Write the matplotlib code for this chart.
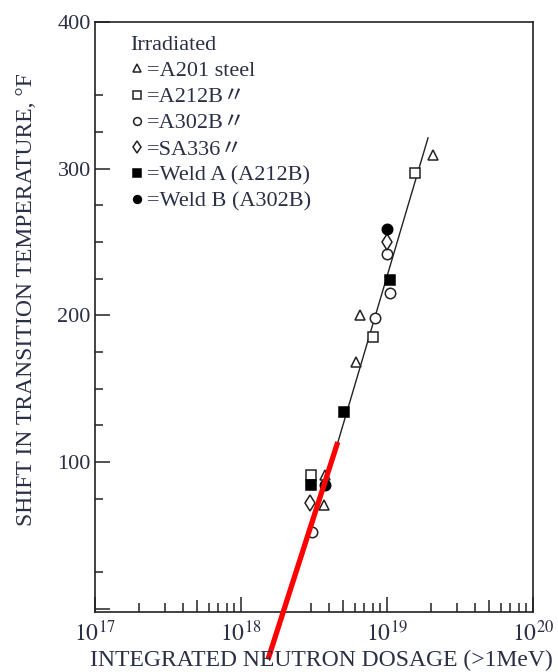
import matplotlib
matplotlib.use("Agg")
import matplotlib.pyplot as plt
import numpy as np
from matplotlib.ticker import FixedLocator, LogLocator, NullFormatter, FuncFormatter

# ---------------- data ----------------
a201_x = [2.07e19, 6.5e18, 6.1e18, 3.75e18, 3.7e18]
a201_y = [309, 200, 168, 91, 71]

a212b_x = [1.56e19, 8.0e18, 3.0e18]
a212b_y = [297, 185, 91]

a302b_x = [1.0e19, 1.05e19, 8.3e18, 3.05e18]
a302b_y = [242, 215, 198, 52]

sa336_x = [1.0e19, 2.95e18]
sa336_y = [250, 72]

welda_x = [1.05e19, 5.07e18, 3.0e18]
welda_y = [224, 134, 84]

weldb_x = [1.0e19, 3.75e18]
weldb_y = [259, 84]

fit_x = [4.44e18, 1.91e19]
fit_y = [108, 321]

red_x = [4.6e18, 1.53e18]
red_y = [113.6, -34.7]

legend_title = "Irradiated"
legend_labels = ["=A201 steel", "=A212B\u3003", "=A302B\u3003", "=SA336\u3003",
                 "=Weld A (A212B)", "=Weld B (A302B)"]

x_major = [1e17, 1e18, 1e19, 1e20]
y_major = [0, 100, 200, 300, 400]
y_minor = [25, 75, 125, 150, 175, 225, 250, 275, 325, 350]

xlabel = "INTEGRATED NEUTRON DOSAGE (>1MeV)"
ylabel = "SHIFT IN TRANSITION TEMPERATURE, \u00b0F"

# ---------------- style ----------------
TXT = "#2a2f45"
SERIF = ["Liberation Serif", "DejaVu Serif", "Noto Sans CJK JP"]
plt.rcParams["font.family"] = SERIF
plt.rcParams["mathtext.fontset"] = "stix"

fig = plt.figure(figsize=(5.58, 6.72), dpi=100)
ax = fig.add_axes([95 / 558, 1 - 612 / 672, (533 - 95) / 558, (612 - 22) / 672])

ax.set_xscale("log")
ax.set_xlim(1e17, 1e20)
ax.set_ylim(-2.3, 400)

ms = 7.5
mew = 1.1
ax.plot(fit_x, fit_y, color="#222222", lw=1.0, zorder=2)
h1, = ax.plot(a201_x, a201_y, "^", ms=ms, mfc="white", mec="#222", mew=mew, ls="none", zorder=3)
h2, = ax.plot(a212b_x, a212b_y, "s", ms=ms, mfc="white", mec="#222", mew=mew, ls="none", zorder=3)
h3, = ax.plot(a302b_x, a302b_y, "o", ms=ms, mfc="white", mec="#222", mew=mew, ls="none", zorder=3)
h4, = ax.plot(sa336_x, sa336_y, "d", ms=ms + 1, mfc="white", mec="#222", mew=mew, ls="none", zorder=3)
h5, = ax.plot(welda_x, welda_y, "s", ms=ms, mfc="black", mec="black", mew=mew, ls="none", zorder=4)
h6, = ax.plot(weldb_x, weldb_y, "o", ms=ms, mfc="black", mec="black", mew=mew, ls="none", zorder=4)

ax.plot(red_x, red_y, color="#ff0000", lw=3.8, solid_capstyle="butt", clip_on=False, zorder=6)

# spines
for s in ax.spines.values():
    s.set_linewidth(1.2)
    s.set_color("#222222")

# ticks
ax.xaxis.set_major_locator(FixedLocator(x_major))
ax.xaxis.set_minor_locator(LogLocator(base=10, subs=np.arange(2, 10)))
ax.xaxis.set_minor_formatter(NullFormatter())
ax.xaxis.set_major_formatter(FuncFormatter(lambda v, p: r"$10^{%d}$" % int(round(np.log10(v)))))
ax.yaxis.set_major_locator(FixedLocator(y_major))
ax.yaxis.set_minor_locator(FixedLocator(y_minor))
ax.yaxis.set_major_formatter(FuncFormatter(lambda v, p: "" if v == 0 else "%d" % v))

ax.tick_params(axis="x", which="major", direction="in", length=11, width=1.1,
               color="#222", labelsize=17, labelcolor=TXT, pad=6)
ax.tick_params(axis="x", which="minor", direction="in", length=6.5, width=1.1, color="#222")
ax.tick_params(axis="y", which="major", direction="in", length=11, width=1.1,
               color="#222", labelsize=16, labelcolor=TXT, pad=3)
ax.tick_params(axis="y", which="minor", direction="in", length=6, width=1.1, color="#222")

# legend
leg = ax.legend([h1, h2, h3, h4, h5, h6], legend_labels, title=legend_title,
                loc="upper left", bbox_to_anchor=(0.081, 0.976), frameon=False,
                fontsize=16, title_fontsize=16, handlelength=0.6, handletextpad=0.15,
                labelspacing=0.25, borderpad=0, borderaxespad=0, alignment="left",
                markerscale=0.75)
for t in leg.get_texts():
    t.set_color(TXT)
leg.get_title().set_color(TXT)

fig.text(321 / 558, 1 - 660 / 672, xlabel, ha="center", va="center", fontsize=17, color=TXT)
fig.text(27 / 558, 1 - 300 / 672, ylabel, ha="center", va="center", rotation=90,
         fontsize=17, color=TXT)

fig.canvas.draw()
locs = ax.xaxis.get_minorticklocs()
ticks = ax.xaxis.get_minor_ticks(len(locs))
for loc, tk in zip(locs, ticks):
    m = loc / 10 ** np.floor(np.log10(loc) + 1e-9)
    if abs(m - 5) < 0.01:
        tk.tick1line.set_markersize(9)

fig.savefig("out.png", dpi=100)
